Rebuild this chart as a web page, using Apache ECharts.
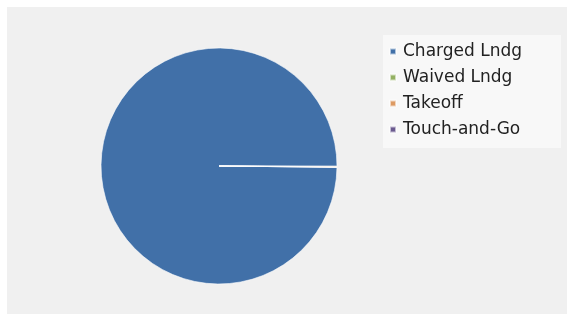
<!DOCTYPE html>
<html>
<head>
<meta charset="utf-8">
<script src="https://cdn.jsdelivr.net/npm/echarts@6/dist/echarts.min.js"></script>
<style>
  html, body { margin: 0; padding: 0; background: #fff; }
  #chart { width: 572px; height: 320px; }
</style>
</head>
<body>
<div id="chart"></div>
<script>
// movement types and counts (charged landings dominate)
const categories = ['Charged Lndg', 'Waived Lndg', 'Takeoff', 'Touch-and-Go']
const counts = [1480, 1, 1, 0]
const colors = ['#4170a8', '#93b062', '#dd9a62', '#6a5a8f']

const chart = echarts.init(document.getElementById('chart'))
chart.setOption({
  backgroundColor: '#fff',
  animation: false,
  color: colors,
  graphic: [
    {
      type: 'rect',
      z: -10,
      shape: { x: 7, y: 7, width: 560, height: 307 },
      style: { fill: '#f0f0f0' }
    }
  ],
  legend: {
    orient: 'vertical',
    left: 383,
    top: 35,
    padding: [8, 39, 10, 6],
    backgroundColor: '#f8f8f8',
    itemWidth: 6,
    itemHeight: 6,
    itemGap: 9,
    icon: 'rect',
    textStyle: { fontFamily: 'DejaVu Sans', fontSize: 17, color: '#222', padding: [0, 0, 0, 2] },
    data: categories
  },
  series: [
    {
      type: 'pie',
      center: [219, 166],
      radius: 118,
      startAngle: -0.6,
      clockwise: true,
      label: { show: false },
      labelLine: { show: false },
      itemStyle: { borderColor: 'rgba(255,255,255,0.6)', borderWidth: 1 },
      data: categories.map((name, i) => ({ name: name, value: counts[i] }))
    }
  ]
})
</script>
</body>
</html>
